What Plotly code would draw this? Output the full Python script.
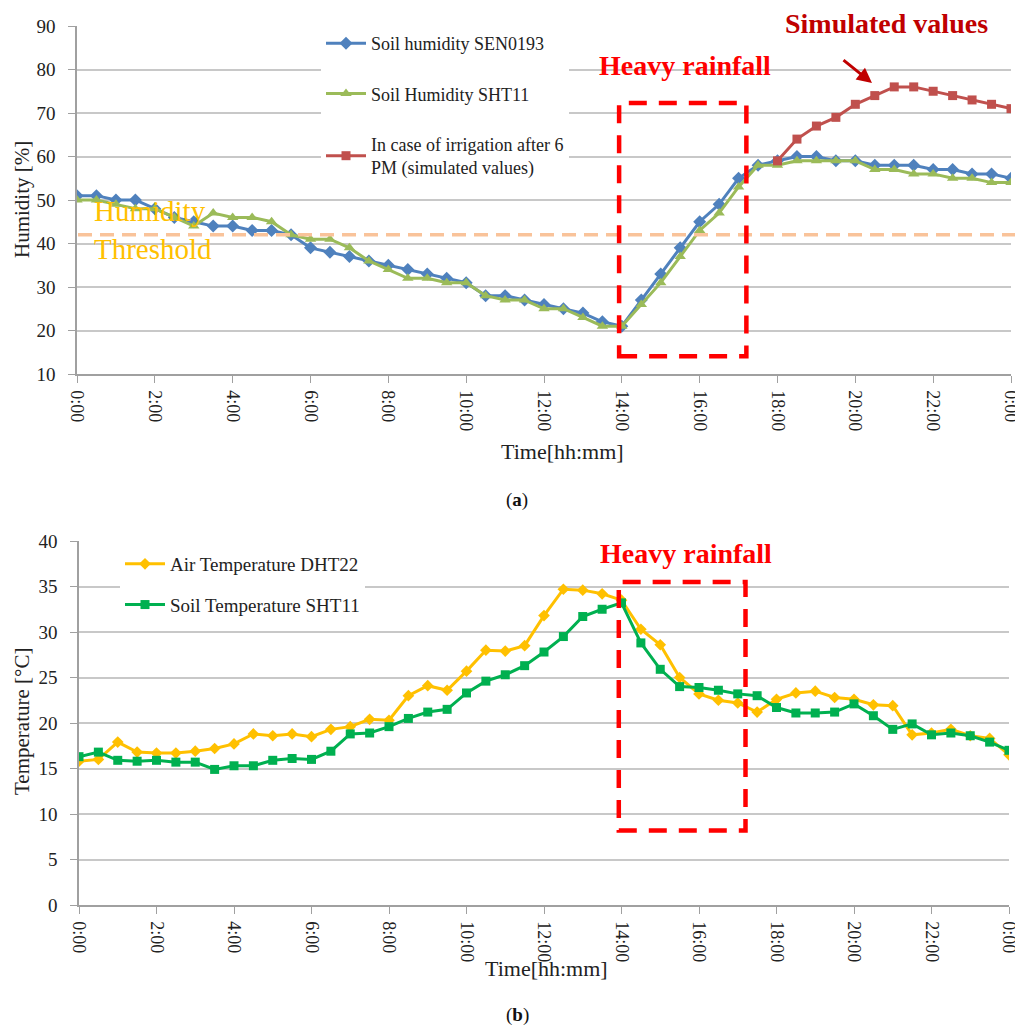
import plotly.graph_objects as go

# ---- data ----
hours = [h / 2 for h in range(49)]  # 0:00 .. 24:00 every 30 min
tick_hours = [0, 2, 4, 6, 8, 10, 12, 14, 16, 18, 20, 22, 24]
tick_labels = ["0:00", "2:00", "4:00", "6:00", "8:00", "10:00", "12:00",
               "14:00", "16:00", "18:00", "20:00", "22:00", "0:00"]

soil_hum_sen0193 = [51, 51, 50, 50, 48, 46, 45, 44, 44, 43, 43, 42,
                    39, 38, 37, 36, 35, 34, 33, 32, 31, 28, 28, 27,
                    26, 25, 24, 22, 21, 27, 33, 39, 45, 49, 55, 58,
                    59, 60, 60, 59, 59, 58, 58, 58, 57, 57, 56, 56,
                    55]
soil_hum_sht11 = [50, 50, 49, 48, 48, 46, 44, 47, 46, 46, 45, 42,
                  41, 41, 39, 36, 34, 32, 32, 31, 31, 28, 27, 27,
                  25, 25, 23, 21, 21, 26, 31, 37, 43, 47, 53, 58,
                  58, 59, 59, 59, 59, 57, 57, 56, 56, 55, 55, 54,
                  54]
sim_hours = hours[36:]
simulated = [59, 64, 67, 69, 72, 74, 76, 76, 75, 74, 73, 72, 71]

air_temp_dht22 = [15.8, 16.0, 17.9, 16.8, 16.7, 16.7, 16.9, 17.2, 17.7, 18.8, 18.6, 18.8,
                  18.5, 19.3, 19.6, 20.4, 20.3, 23.0, 24.1, 23.6, 25.7, 28.0, 27.9, 28.5,
                  31.8, 34.7, 34.6, 34.2, 33.5, 30.3, 28.6, 25.0, 23.2, 22.5, 22.2, 21.2,
                  22.6, 23.3, 23.5, 22.8, 22.6, 22.0, 21.9, 18.7, 18.9, 19.3, 18.6, 18.3,
                  16.5]
soil_temp_sht11 = [16.3, 16.8, 15.9, 15.8, 15.9, 15.7, 15.7, 14.9, 15.3, 15.3, 15.9, 16.1,
                   16.0, 16.9, 18.8, 18.9, 19.6, 20.5, 21.2, 21.5, 23.3, 24.6, 25.3, 26.3,
                   27.8, 29.5, 31.7, 32.5, 33.2, 28.8, 25.9, 24.0, 23.9, 23.6, 23.2, 23.0,
                   21.7, 21.1, 21.1, 21.2, 22.1, 20.8, 19.3, 19.9, 18.7, 18.9, 18.6, 17.9,
                   17.0]

humidity_threshold = 42

# page has an 8px body margin -> figure is offset by 8px
OFF = 8
W, H = 1023 - OFF, 1030 - OFF
FONT = "Liberation Serif"
GRID = "#C8C8C8"
AXIS = "#A0A0A0"


def px_x(p):
    return (p - OFF) / W


def px_y(p):
    return 1 - (p - OFF) / H


fig = go.Figure()

fig.add_trace(go.Scatter(x=hours, y=soil_hum_sen0193, name="Soil humidity SEN0193",
                         mode="lines+markers", line=dict(color="#4F81BD", width=3),
                         marker=dict(symbol="diamond", size=10, color="#4F81BD"),
                         xaxis="x", yaxis="y", legend="legend", legendgroup="a"))
fig.add_trace(go.Scatter(x=hours, y=soil_hum_sht11, name="Soil Humidity SHT11",
                         mode="lines+markers", line=dict(color="#9BBB59", width=3),
                         marker=dict(symbol="triangle-up", size=10, color="#9BBB59"),
                         xaxis="x", yaxis="y", legend="legend", legendgroup="b"))
fig.add_trace(go.Scatter(x=sim_hours, y=simulated,
                         name="In case of irrigation after 6<br>PM (simulated values)",
                         mode="lines+markers", line=dict(color="#C0504D", width=3),
                         marker=dict(symbol="square", size=9, color="#C0504D"),
                         xaxis="x", yaxis="y", legend="legend", legendgroup="c"))

fig.add_trace(go.Scatter(x=hours, y=air_temp_dht22, name="Air Temperature DHT22",
                         mode="lines+markers", line=dict(color="#FFC000", width=3),
                         marker=dict(symbol="diamond", size=9, color="#FFC000"),
                         xaxis="x2", yaxis="y2", legend="legend2", legendgroup="d"))
fig.add_trace(go.Scatter(x=hours, y=soil_temp_sht11, name="Soil Temperature SHT11",
                         mode="lines+markers", line=dict(color="#00B050", width=3),
                         marker=dict(symbol="square", size=9, color="#00B050"),
                         xaxis="x2", yaxis="y2", legend="legend2", legendgroup="e"))

xcommon = dict(range=[0, 24], tickvals=tick_hours, ticktext=tick_labels, tickangle=90,
               showgrid=False, zeroline=False, showline=True, linecolor=AXIS, linewidth=1.5,
               ticks="outside", ticklen=7, tickcolor=AXIS, automargin=False,
               ticklabelstandoff=4, ticklabeloverflow="allow",
               tickfont=dict(family=FONT, size=18, color="#222"))
ycommon = dict(showgrid=True, gridcolor=GRID, gridwidth=1.5, zeroline=False,
               showline=True, linecolor=AXIS, linewidth=1.5, automargin=False,
               ticks="outside", ticklen=7, tickcolor=AXIS, ticklabelstandoff=9,
               tickfont=dict(family=FONT, size=19, color="#222"))

fig.update_layout(
    width=W, height=H,
    margin=dict(l=0, r=0, t=0, b=0, autoexpand=False),
    paper_bgcolor="white", plot_bgcolor="white",
    font=dict(family=FONT, color="#222"),
    xaxis=dict(domain=[px_x(77), px_x(1011)], anchor="y", **xcommon),
    yaxis=dict(domain=[px_y(374), px_y(26)], anchor="x", range=[10, 90], dtick=10, **ycommon),
    xaxis2=dict(domain=[px_x(79), px_x(1009)], anchor="y2", **xcommon),
    yaxis2=dict(domain=[px_y(905), px_y(541)], anchor="x2", range=[0, 40], dtick=5, **ycommon),
    legend=dict(x=px_x(321), y=px_y(25), xanchor="left", yanchor="top",
                bgcolor="white", font=dict(family=FONT, size=18, color="#222"),
                tracegroupgap=24, itemwidth=40),
    legend2=dict(x=px_x(120), y=px_y(545), xanchor="left", yanchor="top",
                 bgcolor="white", font=dict(family=FONT, size=19, color="#222"),
                 tracegroupgap=13, itemwidth=40),
)

# threshold line
fig.add_shape(type="line", xref="paper", yref="y", x0=px_x(78), x1=px_x(1020),
              y0=humidity_threshold, y1=humidity_threshold,
              line=dict(color="#F9C39A", width=3.5, dash="14px,8px"), layer="above")

# heavy rainfall boxes
fig.add_shape(type="rect", xref="x", yref="y", x0=13.93, x1=17.2, y0=14.1, y1=72.3,
              line=dict(color="#FF0000", width=4.5, dash="18px,12px"), layer="above")
fig.add_shape(type="rect", xref="x2", yref="y2", x0=13.93, x1=17.2, y0=8.2, y1=35.5,
              line=dict(color="#FF0000", width=4.5, dash="18px,12px"), layer="above")


def note(text, x, y, size, color, **kw):
    d = dict(text=text, x=px_x(x), y=px_y(y), xref="paper", yref="paper",
             xanchor="center", yanchor="middle", showarrow=False,
             font=dict(family=FONT, size=size, color=color))
    d.update(kw)
    return d


ann = [
    note("<b>Heavy rainfall</b>", 685, 66, 28, "#FF0000"),
    note("<b>Simulated values</b>", 886, 23, 28, "#C00000"),
    dict(text="", x=px_x(872), y=px_y(83), xref="paper", yref="paper",
         ax=-30, ay=-24, showarrow=True, arrowhead=2, arrowsize=1, arrowwidth=3,
         arrowcolor="#C00000"),
    note("Humidity<br>Threshold", 92, 230, 29, "#FFC000", xanchor="left", align="left"),
    note("<b>Heavy rainfall</b>", 686, 553, 28, "#FF0000"),
    note("Humidity [%]", 22, 200, 21, "#222", textangle=-90),
    note("Temperature [°C]", 22, 722, 21, "#222", textangle=-90),
    note("Time[hh:mm]", 562, 451, 22, "#222"),
    note("Time[hh:mm]", 546, 968, 22, "#222"),
    note("(<b>a</b>)", 517, 500, 19, "#111"),
    note("(<b>b</b>)", 517, 1015, 19, "#111"),
]
fig.update_layout(annotations=ann)

fig.write_html("out.html")
